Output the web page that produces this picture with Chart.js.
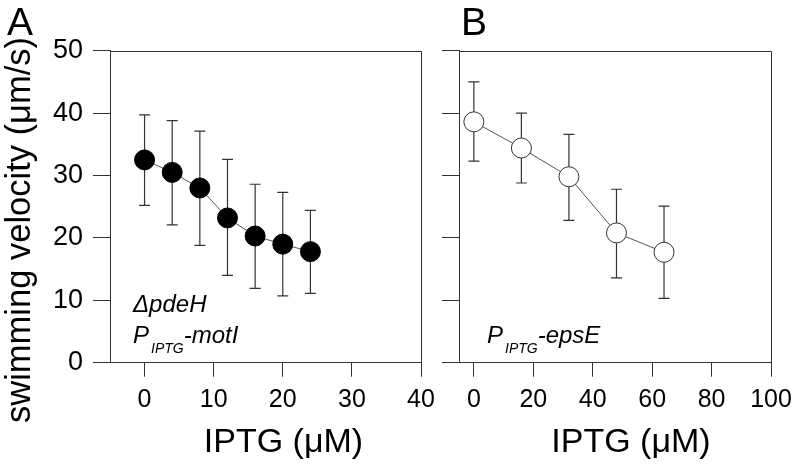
<!DOCTYPE html>
<html>
<head>
<meta charset="utf-8">
<script src="https://cdn.jsdelivr.net/npm/chart.js@4"></script>
<style>
html, body { margin: 0; padding: 0; background: #fff; }
#wrap { position: relative; width: 793px; height: 465px; }
canvas { position: absolute; left: 0; top: 0; }
</style>
</head>
<body>
<div id="wrap">
  <canvas id="grafA" width="793" height="465"></canvas>
  <canvas id="grafB" width="793" height="465"></canvas>
</div>
<script>
// painel A: delta pdeH, P_IPTG-motI
const iptgA = [0, 4, 8, 12, 16, 20, 24];
const velA = [32.5, 30.5, 28.0, 23.2, 20.3, 19.0, 17.8];
const velA_hi = [39.7, 38.8, 37.1, 32.6, 28.6, 27.3, 24.4];
const velA_lo = [25.2, 22.1, 18.8, 14.0, 11.9, 10.7, 11.1];

// painel B: P_IPTG-epsE
const iptgB = [0, 16, 32, 48, 64];
const velB = [38.6, 34.4, 29.8, 20.8, 17.7];
const velB_hi = [45.0, 40.0, 36.6, 27.8, 25.1];
const velB_lo = [32.3, 28.8, 22.8, 13.6, 10.3];

const ticksY = [0, 10, 20, 30, 40, 50];
const ticksXA = [0, 10, 20, 30, 40];
const ticksXB = [0, 20, 40, 60, 80, 100];

const FONTE = "'Liberation Sans', Arial, sans-serif";
const COR_EIXO = '#333';

function barrasErro(xs, hi, lo) {
    return {
        id: 'barrasErro',
        beforeDatasetsDraw(chart) {
            const { ctx, scales: { x, y } } = chart;
            ctx.save();
            ctx.strokeStyle = '#333';
            ctx.lineWidth = 1.2;
            xs.forEach((v, i) => {
                const px = x.getPixelForValue(v);
                const yh = y.getPixelForValue(hi[i]);
                const yl = y.getPixelForValue(lo[i]);
                ctx.beginPath();
                ctx.moveTo(px, yh); ctx.lineTo(px, yl);
                ctx.moveTo(px - 5.5, yh); ctx.lineTo(px + 5.5, yh);
                ctx.moveTo(px - 5.5, yl); ctx.lineTo(px + 5.5, yl);
                ctx.stroke();
            });
            ctx.restore();
        }
    };
}

// caixa (topo e direita) + textos
function extras(cfg) {
    return {
        id: 'extras',
        afterDraw(chart) {
            const { ctx, chartArea: a } = chart;
            ctx.save();
            ctx.strokeStyle = COR_EIXO;
            ctx.lineWidth = 1;
            ctx.beginPath();
            ctx.moveTo(a.left, Math.round(a.top) + 0.5);
            ctx.lineTo(Math.round(a.right) + 0.5, Math.round(a.top) + 0.5);
            ctx.lineTo(Math.round(a.right) + 0.5, a.bottom);
            ctx.stroke();

            ctx.fillStyle = '#000';
            ctx.textBaseline = 'alphabetic';
            ctx.font = '39px ' + FONTE;
            ctx.fillText(cfg.letra, cfg.letraX, 35);

            // titulo do eixo x
            ctx.font = '34px ' + FONTE;
            ctx.textAlign = 'center';
            ctx.fillText('IPTG (μM)', cfg.tituloX, 452);

            // titulo do eixo y
            if (cfg.tituloY) {
                ctx.save();
                ctx.translate(20, 230);
                ctx.rotate(-Math.PI / 2);
                ctx.font = '34.5px ' + FONTE;
                ctx.textBaseline = 'middle';
                ctx.fillText(cfg.tituloY, 0, 0);
                ctx.restore();
            }

            ctx.textAlign = 'left';
            ctx.textBaseline = 'alphabetic';
            cfg.notas.forEach(n => {
                let x = n.x;
                n.partes.forEach(p => {
                    ctx.font = 'italic ' + (p.sub ? 14 : 24) + 'px ' + FONTE;
                    if (p.gap) x += p.gap;
                    ctx.fillText(p.t, x, n.y + (p.sub ? 10 : 0));
                    x += ctx.measureText(p.t).width;
                });
            });
            ctx.restore();
        }
    };
}

function escalas(xMin, xMax, ticksX, larguraY, mostrarY) {
    return {
        x: {
            type: 'linear', min: xMin, max: xMax,
            afterBuildTicks: s => { s.ticks = ticksX.map(v => ({ value: v })); },
            afterFit: s => { s.height = 102.3; s.paddingLeft = 0; s.paddingRight = 0; },
            border: { color: COR_EIXO, width: 1 },
            grid: { drawOnChartArea: false, color: COR_EIXO, tickLength: 14, tickWidth: 1 },
            ticks: { color: '#000', font: { family: FONTE, size: 25 }, padding: 8, maxRotation: 0, autoSkip: false }
        },
        y: {
            type: 'linear', min: 0, max: 50,
            afterBuildTicks: s => { s.ticks = ticksY.map(v => ({ value: v })); },
            afterFit: s => { s.width = larguraY; s.paddingTop = 0; s.paddingBottom = 0; },
            border: { color: COR_EIXO, width: 1 },
            grid: { drawOnChartArea: false, color: COR_EIXO, tickLength: 17, tickWidth: 1 },
            ticks: { display: mostrarY, color: '#000', font: { family: FONTE, size: 27 }, padding: 10 }
        }
    };
}

const chartA = new Chart(document.getElementById('grafA'), {
    type: 'line',
    data: {
        datasets: [{
            data: iptgA.map((v, i) => ({ x: v, y: velA[i] })),
            borderColor: '#555', borderWidth: 1,
            pointRadius: 10, pointBackgroundColor: '#000', pointBorderColor: '#000', pointBorderWidth: 1
        }]
    },
    options: {
        responsive: false, animation: false,
        layout: { padding: { left: 0, right: 372, top: 50.7, bottom: 0 } },
        plugins: { legend: { display: false }, tooltip: { enabled: false } },
        scales: escalas(-5, 40, ticksXA, 110, true)
    },
    plugins: [barrasErro(iptgA, velA_hi, velA_lo), extras({
        letra: 'A', letraX: 7, tituloX: 283.5, tituloY: 'swimming velocity (μm/s)',
        notas: [
            { x: 133, y: 312, partes: [{ t: 'ΔpdeH' }] },
            { x: 133, y: 343, partes: [{ t: 'P' }, { t: 'IPTG', sub: true, gap: 2 }, { t: '-motI' }] }
        ]
    })]
});

const chartB = new Chart(document.getElementById('grafB'), {
    type: 'line',
    data: {
        datasets: [{
            data: iptgB.map((v, i) => ({ x: v, y: velB[i] })),
            borderColor: '#555', borderWidth: 1,
            pointRadius: 10, pointBackgroundColor: '#fff', pointBorderColor: '#333', pointBorderWidth: 1
        }]
    },
    options: {
        responsive: false, animation: false,
        layout: { padding: { left: 439, right: 22, top: 50.7, bottom: 0 } },
        plugins: { legend: { display: false }, tooltip: { enabled: false } },
        scales: escalas(-5, 100, ticksXB, 20, false)
    },
    plugins: [barrasErro(iptgB, velB_hi, velB_lo), extras({
        letra: 'B', letraX: 461, tituloX: 631, tituloY: null,
        notas: [
            { x: 487, y: 343, partes: [{ t: 'P' }, { t: 'IPTG', sub: true, gap: 2 }, { t: '-epsE' }] }
        ]
    })]
});
</script>
</body>
</html>
